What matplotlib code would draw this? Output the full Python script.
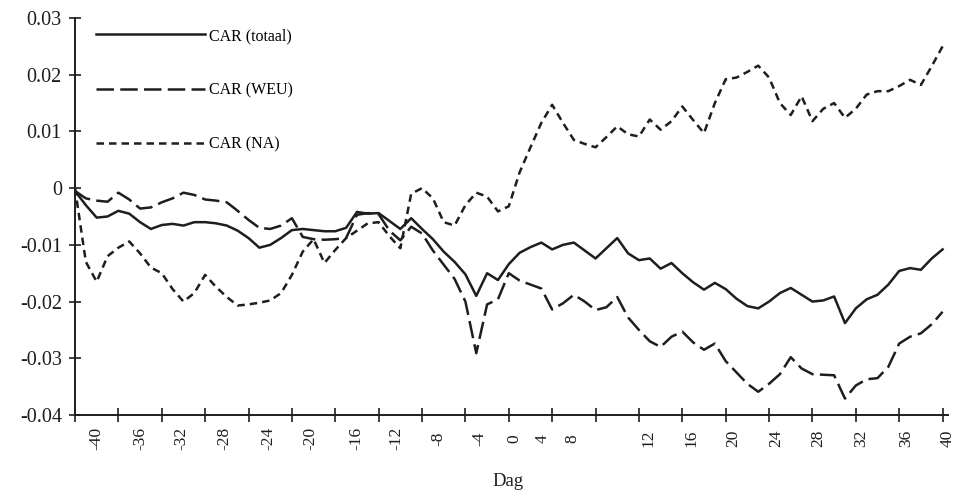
import matplotlib
matplotlib.use("Agg")
import matplotlib.pyplot as plt
import numpy as np

plt.rcParams['font.family'] = ['Liberation Serif', 'DejaVu Serif']

# gegevens: dag -40 .. 40
dagen = np.arange(-40, 41)

car_totaal = [
    -0.0005, -0.0030, -0.0052, -0.0050, -0.0040, -0.0045, -0.0060, -0.0072, -0.0065, -0.0063,
    -0.0066, -0.0060, -0.0060, -0.0062, -0.0066, -0.0075, -0.0088, -0.0105, -0.0100, -0.0088,
    -0.0074, -0.0072, -0.0074, -0.0076, -0.0076, -0.0070, -0.0042, -0.0045, -0.0044, -0.0058,
    -0.0072, -0.0053, -0.0072, -0.0090, -0.0112, -0.0130, -0.0152, -0.0190, -0.0150, -0.0162,
    -0.0134, -0.0114, -0.0104, -0.0096, -0.0108, -0.0100, -0.0096, -0.0110, -0.0124, -0.0106,
    -0.0088, -0.0115, -0.0127, -0.0124, -0.0142, -0.0132, -0.0150, -0.0166, -0.0179, -0.0167,
    -0.0178, -0.0195, -0.0208, -0.0212, -0.0200, -0.0185, -0.0176, -0.0188, -0.0200, -0.0198,
    -0.0191, -0.0238, -0.0212, -0.0196, -0.0188, -0.0170, -0.0146, -0.0141, -0.0144, -0.0124,
    -0.0108,
]

car_weu = [
    -0.0005, -0.0018, -0.0022, -0.0024, -0.0008, -0.0020, -0.0036, -0.0034, -0.0025, -0.0018,
    -0.0008, -0.0012, -0.0020, -0.0022, -0.0025, -0.0040, -0.0056, -0.0070, -0.0072, -0.0066,
    -0.0053, -0.0086, -0.0090, -0.0091, -0.0090, -0.0088, -0.0047, -0.0044, -0.0046, -0.0075,
    -0.0092, -0.0068, -0.0080, -0.0110, -0.0135, -0.0160, -0.0200, -0.0291, -0.0205, -0.0196,
    -0.0150, -0.0163, -0.0170, -0.0177, -0.0214, -0.0203, -0.0188, -0.0200, -0.0215, -0.0210,
    -0.0192, -0.0228, -0.0250, -0.0270, -0.0280, -0.0262, -0.0253, -0.0272, -0.0285, -0.0274,
    -0.0305, -0.0325, -0.0345, -0.0359, -0.0345, -0.0328, -0.0298, -0.0318, -0.0328, -0.0329,
    -0.0330, -0.0371, -0.0348, -0.0337, -0.0335, -0.0315, -0.0274, -0.0262, -0.0256, -0.0240,
    -0.0218,
]

car_na = [
    0.0000, -0.0130, -0.0165, -0.0120, -0.0105, -0.0094, -0.0115, -0.0140, -0.0150, -0.0178,
    -0.0200, -0.0185, -0.0153, -0.0174, -0.0192, -0.0207, -0.0205, -0.0202, -0.0198, -0.0185,
    -0.0153, -0.0112, -0.0090, -0.0132, -0.0109, -0.0088, -0.0075, -0.0062, -0.0060, -0.0085,
    -0.0106, -0.0010, 0.0000, -0.0018, -0.0060, -0.0066, -0.0030, -0.0008, -0.0015, -0.0041,
    -0.0032, 0.0028, 0.0072, 0.0115, 0.0147, 0.0115, 0.0085, 0.0078, 0.0072, 0.0090,
    0.0109, 0.0095, 0.0091, 0.0121, 0.0103, 0.0118, 0.0144, 0.0120, 0.0097, 0.0150,
    0.0192, 0.0195, 0.0205, 0.0216, 0.0195, 0.0150, 0.0129, 0.0162, 0.0118, 0.0140,
    0.0150, 0.0124, 0.0140, 0.0165, 0.0171, 0.0171, 0.0180, 0.0191, 0.0182, 0.0215,
    0.0250,
]

# as-labels (staan in het origineel iets naast de streepjes)
x_labels = ['-40', '-36', '-32', '-28', '-24', '-20', '-16', '-12', '-8', '-4',
            '0', '4', '8', '12', '16', '20', '24', '28', '32', '36', '40']
x_label_pos = [-38.0, -34.0, -30.2, -26.2, -22.2, -18.3, -14.1, -10.4, -6.5, -2.7,
               0.55, 3.1, 5.9, 12.9, 16.8, 20.7, 24.7, 28.5, 32.5, 36.6, 40.5]
y_ticks = [0.03, 0.02, 0.01, 0, -0.01, -0.02, -0.03, -0.04]
y_labels = ['0.03', '0.02', '0.01', '0', '-0.01', '-0.02', '-0.03', '-0.04']

kleur = '#1e1e1e'

fig = plt.figure(figsize=(9.6, 4.92), dpi=100)
ax = fig.add_axes([75 / 960, 1 - 415 / 492, 873 / 960, 397 / 492])

ax.plot(dagen, car_totaal, color=kleur, lw=1.8, label='CAR (totaal)')
ax.plot(dagen, car_weu, color=kleur, lw=1.8, dashes=(7, 2.5), label='CAR (WEU)')
ax.plot(dagen, car_na, color=kleur, lw=1.8, dashes=(3, 2), label='CAR (NA)')

ax.set_xlim(-40, 40)
ax.set_ylim(-0.04, 0.03)

for s in ['top', 'right']:
    ax.spines[s].set_visible(False)
for s in ['left', 'bottom']:
    ax.spines[s].set_linewidth(1.4)
    ax.spines[s].set_color(kleur)

ax.set_yticks(y_ticks)
ax.set_yticklabels(y_labels, fontsize=14.5)
ax.tick_params(axis='y', direction='inout', length=9, width=1.2, pad=5, colors=kleur)

ax.set_xticks(np.arange(-40, 41, 4))
ax.set_xticklabels([])
ax.tick_params(axis='x', which='major', direction='inout', length=10, width=1.2, colors=kleur)
ax.set_xticks(x_label_pos, minor=True)
ax.set_xticklabels(x_labels, minor=True, rotation=90, fontsize=12.5)
ax.tick_params(axis='x', which='minor', length=0, pad=17, colors=kleur)
plt.setp(ax.get_xminorticklabels(), va='center')

ax.set_xlabel('Dag', fontsize=13.5, color=kleur)
ax.xaxis.set_label_coords(0.496, -0.145)

ax.legend(loc='upper left', bbox_to_anchor=(0.024, 0.975), frameon=False,
          fontsize=11.5, handlelength=6.8, handletextpad=0.25, labelspacing=2.4,
          borderpad=0, borderaxespad=0)

fig.savefig('out.png', dpi=100, facecolor='white')
